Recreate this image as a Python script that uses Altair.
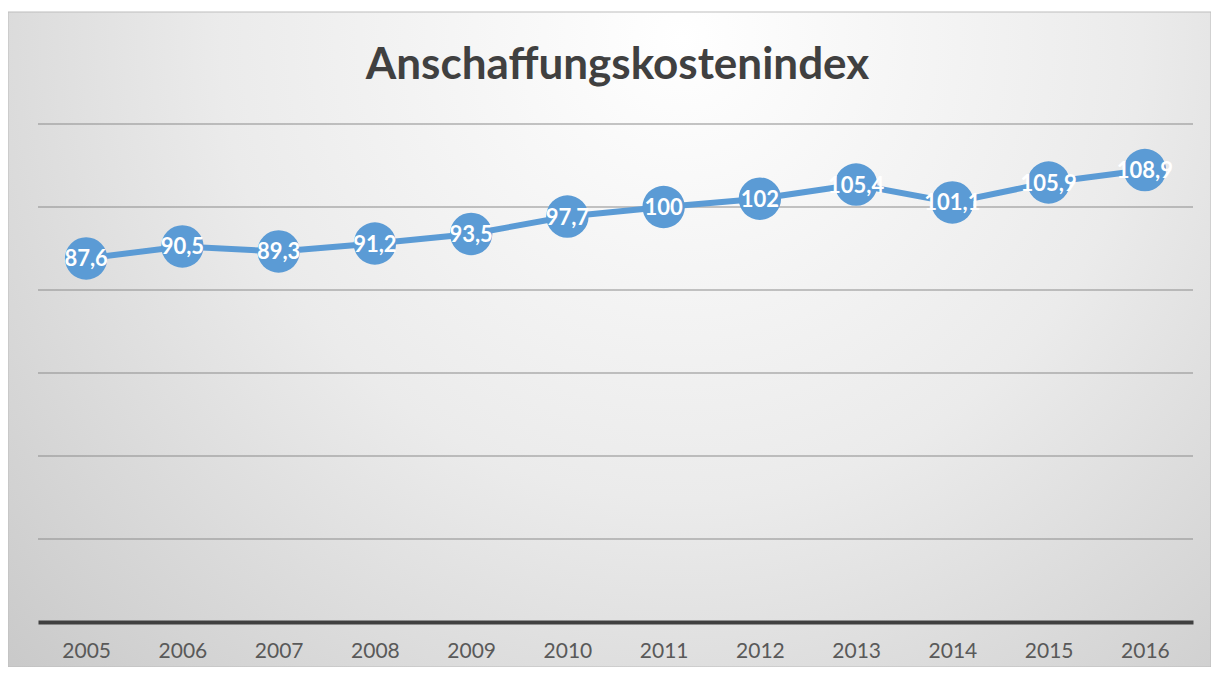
import altair as alt
import pandas as pd

TITLE = "Anschaffungskostenindex"
years = ["2005", "2006", "2007", "2008", "2009", "2010", "2011", "2012", "2013", "2014", "2015", "2016"]
values = [87.6, 90.5, 89.3, 91.2, 93.5, 97.7, 100, 102, 105.4, 101.1, 105.9, 108.9]
labels = ["87,6", "90,5", "89,3", "91,2", "93,5", "97,7", "100", "102", "105,4", "101,1", "105,9", "108,9"]
grid_values = [20, 40, 60, 80, 100, 120]

W, H = 1155, 498
BLUE = "#5b9bd5"

df = pd.DataFrame({"year": years, "value": values, "label": labels})
gdf = pd.DataFrame({"g": grid_values})
tdf = pd.DataFrame({"t": [TITLE]})
bdf = pd.DataFrame({"b": [0]})

yscale = alt.Scale(domain=[0, 120], nice=False, zero=True)

xenc = alt.X(
    "year:O",
    title=None,
    sort=years,
    axis=alt.Axis(
        labelFont="Lato",
        labelFontSize=21,
        labelColor="#595959",
        labelAngle=0,
        labelPadding=18,
        ticks=False,
        domainColor="#404040",
        domainWidth=4,
        grid=False,
        zindex=1,
    ),
)

grad = alt.RadialGradient(
    gradient="radial",
    x1=0.56, y1=0.25, r1=0,
    x2=0.56, y2=0.25, r2=0.85,
    stops=[
        alt.GradientStop(offset=0, color="#ffffff"),
        alt.GradientStop(offset=0.45, color="#ebebeb"),
        alt.GradientStop(offset=1, color="#c2c2c2"),
    ],
)

bg = alt.Chart(bdf).mark_rect(fill=grad, stroke="#bdbdbd", strokeWidth=1).encode(
    x=alt.value(-30), x2=alt.value(1173), y=alt.value(-112), y2=alt.value(543)
)

rules = alt.Chart(gdf).mark_rule(color="#8c8c8c", strokeWidth=2, opacity=0.5).encode(
    y=alt.Y("g:Q", scale=yscale, axis=None)
)

base = alt.Chart(df).encode(x=xenc, y=alt.Y("value:Q", scale=yscale, axis=None))

line = base.mark_line(color=BLUE, strokeWidth=6)
pts = base.mark_circle(color=BLUE, size=1800, opacity=1)
txt = base.mark_text(
    color="white", font="Lato", fontSize=22, fontWeight="bold",
    align="center", baseline="middle", dy=1
).encode(text="label:N")

title = alt.Chart(tdf).mark_text(
    font="Lato", fontSize=44, fontWeight="bold", color="#404040",
    align="center", baseline="alphabetic"
).encode(text="t:N", x=alt.value(W / 2 + 2), y=alt.value(-45))

chart = alt.layer(bg, rules, line, pts, txt, title).properties(
    width=W, height=H,
    autosize=alt.AutoSizeParams(type="none"),
    padding={"left": 30, "top": 116, "right": 18, "bottom": 45},
).configure_view(stroke=None).configure(background="white")

chart.save("out.html", embed_options={"renderer": "svg", "actions": False})
